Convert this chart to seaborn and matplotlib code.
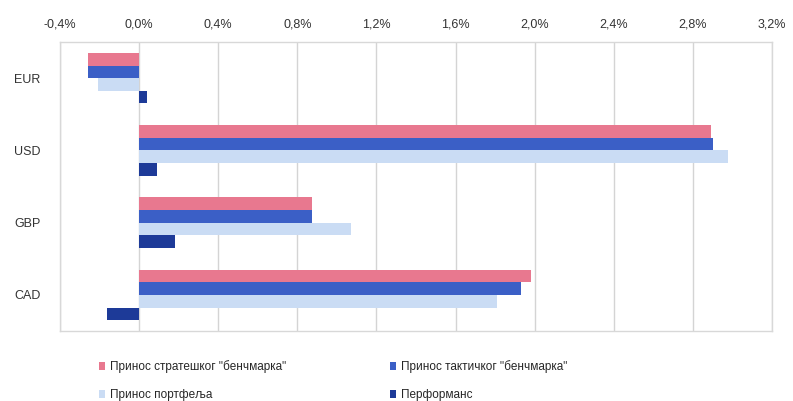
import pandas as pd
import matplotlib
matplotlib.use('Agg')
import matplotlib.pyplot as plt
import seaborn as sns
from matplotlib.ticker import FuncFormatter, MultipleLocator

# Values (percent)
currencies = ['EUR', 'USD', 'GBP', 'CAD']
series = ['Принос стратешког "бенчмарка"', 'Принос тактичког "бенчмарка"',
          'Принос портфеља', 'Перформанс']
strategic = [-0.26, 2.89, 0.875, 1.98]
tactical = [-0.26, 2.90, 0.875, 1.93]
portfolio = [-0.21, 2.98, 1.07, 1.81]
performance = [0.04, 0.09, 0.18, -0.16]

colors = ['#e8788f', '#3b5fc6', '#cadcf4', '#1d3a98']

rows = []
for name, vals in zip(series, [strategic, tactical, portfolio, performance]):
    for cur, v in zip(currencies, vals):
        rows.append({'Currency': cur, 'Series': name, 'Value': v})
df = pd.DataFrame(rows)

sns.set_style('white')
plt.rcParams['font.family'] = ['Liberation Sans', 'DejaVu Sans']

fig = plt.figure(figsize=(7.93, 4.01), dpi=100)
ax = fig.add_axes([0.0757, 0.1746, 0.8978, 0.7204])

sns.barplot(data=df, y='Currency', x='Value', hue='Series', order=currencies,
            hue_order=series, palette=colors, orient='h', width=0.7,
            saturation=1, linewidth=0, ax=ax, legend=True)

ax.set_xlim(-0.4, 3.2)
ax.xaxis.set_major_locator(MultipleLocator(0.4))
ax.xaxis.set_major_formatter(FuncFormatter(lambda v, p: f'{v:.1f}%'.replace('.', ',')))
ax.xaxis.tick_top()
ax.tick_params(axis='x', length=0, labelsize=9, colors='#333333', pad=8)
ax.tick_params(axis='y', length=0, labelsize=9, colors='#333333', pad=14)
ax.set_xlabel('')
ax.set_ylabel('')
ax.grid(axis='x', color='#d4d4d4', linewidth=1)
ax.set_axisbelow(True)
for s in ax.spines.values():
    s.set_color('#d8d8d8')
    s.set_linewidth(1)

handles, labels = ax.get_legend_handles_labels()
ax.get_legend().remove()
# row order: strategic, tactical / portfolio, performance
idx = [0, 2, 1, 3]
fig.legend([handles[i] for i in idx], [labels[i] for i in idx],
           loc='lower left', bbox_to_anchor=(0.112, -0.027),
           ncol=2, frameon=False, fontsize=8.5, handlelength=0.5,
           handleheight=0.6, handletextpad=0.4, columnspacing=8.8,
           labelspacing=1.35)

fig.savefig('out.png', dpi=100)
